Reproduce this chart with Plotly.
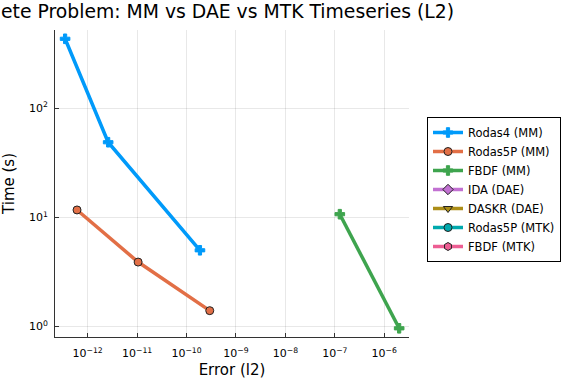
import plotly.graph_objects as go

title_text = "ete Problem: MM vs DAE vs MTK Timeseries (L2)"

series_names = ["Rodas4 (MM)", "Rodas5P (MM)", "FBDF (MM)", "IDA (DAE)",
                "DASKR (DAE)", "Rodas5P (MTK)", "FBDF (MTK)"]
series_colors = ["#009AFA", "#E26F46", "#3EA44E", "#C271D2",
                 "#AC8E18", "#00A9AD", "#ED5E93"]
series_symbols = ["cross", "circle", "cross", "diamond",
                  "triangle-down", "circle", "hexagon"]

rodas4_mm_err = [3.5e-13, 2.6e-12, 1.87e-10]
rodas4_mm_time = [432.0, 48.8, 5.0]
rodas5p_mm_err = [6.1e-13, 1.05e-11, 2.95e-10]
rodas5p_mm_time = [11.7, 3.9, 1.40]
fbdf_mm_err = [1.26e-7, 2.0e-6]
fbdf_mm_time = [10.7, 0.965]
# series with no plotted points (legend entries only)
ida_dae_err, ida_dae_time = [None], [None]
daskr_dae_err, daskr_dae_time = [None], [None]
rodas5p_mtk_err, rodas5p_mtk_time = [None], [None]
fbdf_mtk_err, fbdf_mtk_time = [None], [None]

series_err = [rodas4_mm_err, rodas5p_mm_err, fbdf_mm_err, ida_dae_err,
              daskr_dae_err, rodas5p_mtk_err, fbdf_mtk_err]
series_time = [rodas4_mm_time, rodas5p_mm_time, fbdf_mm_time, ida_dae_time,
               daskr_dae_time, rodas5p_mtk_time, fbdf_mtk_time]

x_tick_exps = [-12, -11, -10, -9, -8, -7, -6]
y_tick_exps = [0, 1, 2]

fig = go.Figure()
for name, col, sym, xs, ys in zip(series_names, series_colors, series_symbols,
                                  series_err, series_time):
    is_cross = sym == "cross"
    fig.add_trace(go.Scatter(
        x=xs, y=ys, name=name, mode="lines+markers",
        line=dict(color=col, width=3.5),
        marker=dict(symbol=sym, size=8, color=col,
                    line=dict(color=col if is_cross else "#222222", width=1)),
    ))

# plot area: x 55..409, y 30..337 (page body margin removed below)
ML, MT, PW, PH = 55, 30, 354, 307
font = "DejaVu Sans, Verdana, sans-serif"
fig.update_layout(
    width=576, height=384,
    margin=dict(l=ML, r=576 - ML - PW, t=MT, b=384 - MT - PH, autoexpand=False),
    paper_bgcolor="white", plot_bgcolor="white",
    font=dict(family=font, color="black"),
    legend=dict(x=(427 - ML) / PW, y=(337 - 117) / PH, xanchor="left",
                yanchor="top", bordercolor="black", borderwidth=1,
                font=dict(size=11.5, family=font), bgcolor="white",
                tracegroupgap=0),
    showlegend=True,
)
fig.add_annotation(
    text=title_text, xref="paper", yref="paper",
    x=(-1 - ML) / PW, y=(337 - 12) / PH, xanchor="left", yanchor="middle",
    showarrow=False, font=dict(size=18.8, family=font, color="black"),
)
fig.update_xaxes(
    type="log", range=[-12.66, -5.50], automargin=False,
    tickvals=[10.0 ** e for e in x_tick_exps],
    ticktext=["10<sup>−%d</sup>" % (-e) for e in x_tick_exps],
    showline=True, linecolor="#333333", linewidth=1, mirror=False,
    ticks="inside", ticklen=4, tickcolor="#333333", ticklabelstandoff=6,
    showgrid=True, gridcolor="rgba(0,0,0,0.09)", gridwidth=1,
    zeroline=False, tickfont=dict(size=11),
    title=dict(text="Error (l2)", font=dict(size=15), standoff=5),
)
fig.update_yaxes(
    type="log", range=[-0.095, 2.716], automargin=False,
    tickvals=[10.0 ** e for e in y_tick_exps],
    ticktext=["10<sup>%d</sup>" % e for e in y_tick_exps],
    showline=True, linecolor="#333333", linewidth=1, mirror=False,
    ticks="inside", ticklen=4, tickcolor="#333333", ticklabelstandoff=4,
    showgrid=True, gridcolor="rgba(0,0,0,0.09)", gridwidth=1,
    zeroline=False, tickfont=dict(size=11),
    title=dict(text="Time (s)", font=dict(size=15), standoff=11),
)
fig.write_html("out.html", config={"displayModeBar": False},
               post_script="document.body.style.margin='0';"
                           "document.body.style.overflow='hidden';")
